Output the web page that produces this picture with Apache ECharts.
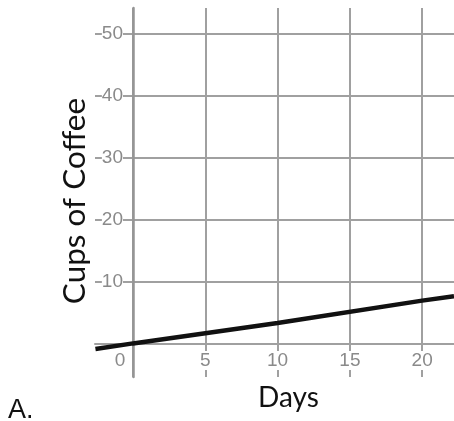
<!DOCTYPE html>
<html>
<head>
<meta charset="utf-8">
<script src="https://cdn.jsdelivr.net/npm/echarts@6/dist/echarts.min.js"></script>
<style>
html,body{margin:0;padding:0;background:#fff;}
#c{width:454px;height:421px;}
</style>
</head>
<body>
<div id="c"></div>
<script>
// Data
var days = [-2.6, 0, 10, 20, 22.2];
var cups = [-0.8, 0.1, 3.4, 7.0, 7.7];
var xTicks = [0, 5, 10, 15, 20];
var yTicks = [10, 20, 30, 40, 50];
var xRange = [-2.63, 22.2];
var yRange = [-5.32, 54.2];
var xTitle = 'Days';
var yTitle = 'Cups of Coffee';
var panelLabel = 'A.';

var seriesData = days.map(function (d, i) { return [d, cups[i]]; });

var chart = echarts.init(document.getElementById('c'), null, {renderer: 'canvas'});
var gridColor = '#a0a0a0';
var labelColor = '#8a8a8a';
var tickFont = 'Liberation Sans';

chart.setOption({
  animation: false,
  backgroundColor: '#ffffff',
  grid: {left: 95, right: 0, top: 8, bottom: 44, containLabel: false, outerBoundsMode: 'none'},
  xAxis: {
    type: 'value',
    min: xRange[0], max: xRange[1],
    splitNumber: 5, minInterval: 5, maxInterval: 5,
    axisLine: {show: true, onZero: true, lineStyle: {color: gridColor, width: 2}},
    axisTick: {show: false},
    splitLine: {show: true, showMinLine: false, showMaxLine: false, lineStyle: {color: gridColor, width: 2}},
    axisLabel: {
      show: true, margin: -26, color: labelColor, fontFamily: tickFont, fontSize: 19,
      showMinLabel: true, showMaxLabel: true, hideOverlap: false,
      formatter: function (v) {
        if (xTicks.indexOf(Math.round(v * 1000) / 1000) < 0) return '';
        if (v === 0) return '{z|0}';
        return '{n|' + v + '}';
      },
      rich: {
        n: {backgroundColor: '#fff', color: labelColor, fontFamily: tickFont, fontSize: 19},
        z: {padding: [0, 26, 0, 0], color: labelColor, fontFamily: tickFont, fontSize: 19}
      }
    }
  },
  yAxis: {
    type: 'value',
    min: yRange[0], max: yRange[1],
    splitNumber: 6, minInterval: 10, maxInterval: 10,
    axisLine: {show: true, onZero: true, lineStyle: {color: '#959595', width: 2.5}},
    axisTick: {show: false},
    splitLine: {show: true, showMinLine: false, showMaxLine: false, lineStyle: {color: gridColor, width: 2}},
    axisLabel: {
      show: true, margin: -28, color: labelColor, fontFamily: tickFont, fontSize: 19,
      showMinLabel: true, showMaxLabel: true, hideOverlap: false,
      formatter: function (v) {
        if (yTicks.indexOf(Math.round(v * 1000) / 1000) < 0) return '';
        return '{n|' + v + '}';
      },
      rich: {
        n: {backgroundColor: '#fff', color: labelColor, fontFamily: tickFont, fontSize: 19}
      }
    }
  },
  graphic: [
    {type: 'text', x: 75, y: 201, rotation: Math.PI / 2, z: 100,
     style: {text: yTitle, fill: '#111', font: '31.5px Lato', textAlign: 'center', textVerticalAlign: 'middle'}},
    {type: 'text', x: 258, y: 398, z: 100,
     style: {text: xTitle, fill: '#111', font: '28px Lato', textAlign: 'left', textVerticalAlign: 'middle'}},
    {type: 'text', x: 8, y: 411, z: 100,
     style: {text: panelLabel, fill: '#111', font: '27px "Liberation Sans"', textAlign: 'left', textVerticalAlign: 'middle'}}
  ],
  series: [{
    type: 'line',
    data: seriesData,
    showSymbol: false,
    symbol: 'none',
    lineStyle: {color: '#111', width: 4.5},
    z: 10
  }]
});
</script>
</body>
</html>
